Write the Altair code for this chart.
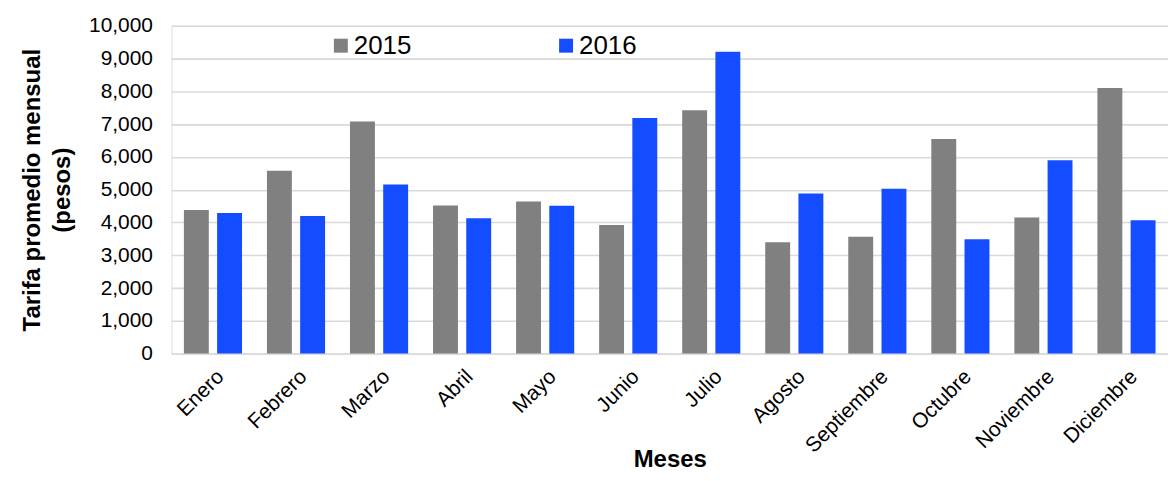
import altair as alt
import pandas as pd

meses = ["Enero", "Febrero", "Marzo", "Abril", "Mayo", "Junio", "Julio",
         "Agosto", "Septiembre", "Octubre", "Noviembre", "Diciembre"]
tarifa_2015 = [4380, 5580, 7080, 4520, 4640, 3920, 7420, 3395, 3565, 6545, 4155, 8105]
tarifa_2016 = [4290, 4195, 5160, 4130, 4510, 7190, 9210, 4885, 5025, 3485, 5900, 4065]
anios = ["2015", "2016"]
colores = ["#808080", "#144DFF"]
y_ticks = list(range(0, 10001, 1000))

rows = []
for i, m in enumerate(meses):
    rows.append({"Mes": m, "Año": anios[0], "Tarifa": tarifa_2015[i]})
    rows.append({"Mes": m, "Año": anios[1], "Tarifa": tarifa_2016[i]})
df = pd.DataFrame(rows)

FONT = "Liberation Sans"

chart = alt.Chart(df).mark_bar().encode(
    x=alt.X(
        "Mes:N", sort=meses,
        scale=alt.Scale(paddingInner=0.3, paddingOuter=0.15),
        axis=alt.Axis(
            title="Meses", labelAngle=-45, labelFontSize=21, labelPadding=12,
            labelColor="#000000", ticks=False, domain=False, grid=False,
            titleFontSize=24, titleFontWeight="bold", titleColor="#000000",
            titleY=113, titleBaseline="alphabetic",
        ),
    ),
    xOffset=alt.XOffset("Año:N", scale=alt.Scale(paddingInner=0.25, paddingOuter=0)),
    y=alt.Y(
        "Tarifa:Q",
        scale=alt.Scale(domain=[0, 10000]),
        axis=alt.Axis(
            values=y_ticks, format=",.0f", title=["Tarifa promedio mensual", "(pesos)"],
            labelFontSize=21, labelColor="#000000", labelPadding=19,
            ticks=False, domain=False, gridColor="#d9d9d9", gridWidth=1.6,
            titleFontSize=24, titleFontWeight="bold", titleColor="#000000",
            titlePadding=14, titleLineHeight=30,
        ),
    ),
    color=alt.Color(
        "Año:N",
        scale=alt.Scale(domain=anios, range=colores),
        legend=alt.Legend(
            orient="none", legendX=157, legendY=7, direction="horizontal",
            title=None, symbolType="square", symbolSize=196, labelFontSize=26,
            labelColor="#000000", columnPadding=142, labelOffset=0,
            symbolStrokeWidth=0, labelLimit=200,
        ),
    ),
).properties(
    width=1000, height=329,
    autosize=alt.AutoSizeParams(type="none"),
    padding={"left": 164, "top": 17, "right": 0, "bottom": 121},
).configure_view(stroke=None).configure(font=FONT)

chart.save("out.html", embed_options={"renderer": "svg", "actions": False})
